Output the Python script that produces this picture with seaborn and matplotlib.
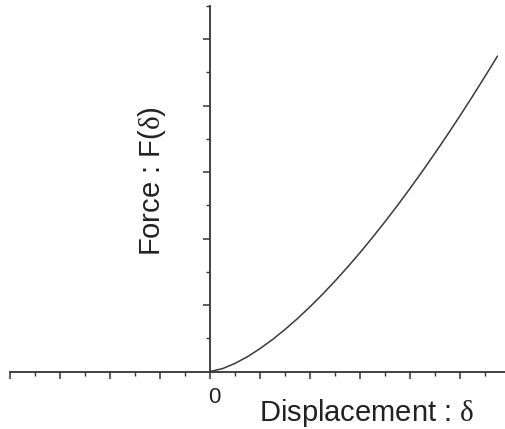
import matplotlib
matplotlib.use("Agg")
import matplotlib.pyplot as plt
from matplotlib.ticker import MultipleLocator, FixedLocator, NullFormatter
import seaborn as sns
import pandas as pd

# Values (arbitrary units)
displacement = [0.0, 0.25, 0.5, 0.75, 1.0, 1.25, 1.5, 1.75, 2.0, 2.25, 2.5, 2.75,
                3.0, 3.25, 3.5, 3.75, 4.0, 4.25, 4.5, 4.75, 5.0, 5.25, 5.5, 5.75]
force = [0.0, 0.043, 0.122, 0.223, 0.344, 0.481, 0.632, 0.796, 0.973, 1.161, 1.360, 1.569,
         1.787, 2.016, 2.253, 2.498, 2.752, 3.014, 3.284, 3.561, 3.846, 4.138, 4.437, 4.743]
x_label = "Displacement : "
y_label = "Force : F("
origin_label = "0"

sns.set_style("white")
plt.rcParams["font.family"] = ["Liberation Sans", "DejaVu Sans"]
plt.rcParams["mathtext.fontset"] = "custom"
plt.rcParams["mathtext.rm"] = "Liberation Serif"

df = pd.DataFrame({"d": displacement, "F": force})

W, H = 505, 429
y0_px = 371.5
ymax = 5.5
unit_px = 66.5
top_px = y0_px - ymax * unit_px

fig = plt.figure(figsize=(W / 100, H / 100), dpi=100)
ax = fig.add_axes([10 / W, (H - y0_px) / H, 495 / W, (y0_px - top_px) / H])

sns.lineplot(data=df, x="d", y="F", ax=ax, color="#3a3a3a", linewidth=1.1)

ax.set_xlim(-4.0, 5.9)
ax.set_ylim(0, ymax)

for s in ["top", "right"]:
    ax.spines[s].set_visible(False)
ax.spines["left"].set_position(("data", 0))
ax.spines["left"].set_color("#333333")
ax.spines["bottom"].set_color("#333333")
ax.spines["left"].set_linewidth(1.3)
ax.spines["bottom"].set_linewidth(1.3)

ax.xaxis.set_major_locator(MultipleLocator(1.0))
ax.xaxis.set_minor_locator(MultipleLocator(0.5))
ax.yaxis.set_major_locator(FixedLocator([1, 2, 3, 4, 5]))
ax.yaxis.set_minor_locator(FixedLocator([0.5, 1.5, 2.5, 3.5, 4.5, 5.5]))
ax.xaxis.set_major_formatter(NullFormatter())
ax.yaxis.set_major_formatter(NullFormatter())
ax.tick_params(axis="both", which="major", direction="out", length=5, width=1.1, color="#333333")
ax.tick_params(axis="both", which="minor", direction="out", length=3, width=1.0, color="#333333")
ax.tick_params(axis="x", which="both", bottom=True, top=False)
ax.tick_params(axis="y", which="both", left=True, right=False)
ax.set_xlabel("")
ax.set_ylabel("")

fig.text(214 / W, 1 - 403 / H, origin_label, ha="center", va="baseline",
         fontsize=16, color="#222222")
fig.text(474 / W, 1 - 421 / H, x_label + r"$\mathrm{\delta}$", ha="right", va="baseline",
         fontsize=21, color="#222222")
fig.text(152 / W, 1 - 181 / H, y_label + r"$\mathrm{\delta}$" + ")", rotation=90,
         ha="center", va="center", fontsize=21, color="#222222")

fig.savefig("out.png", dpi=100)
